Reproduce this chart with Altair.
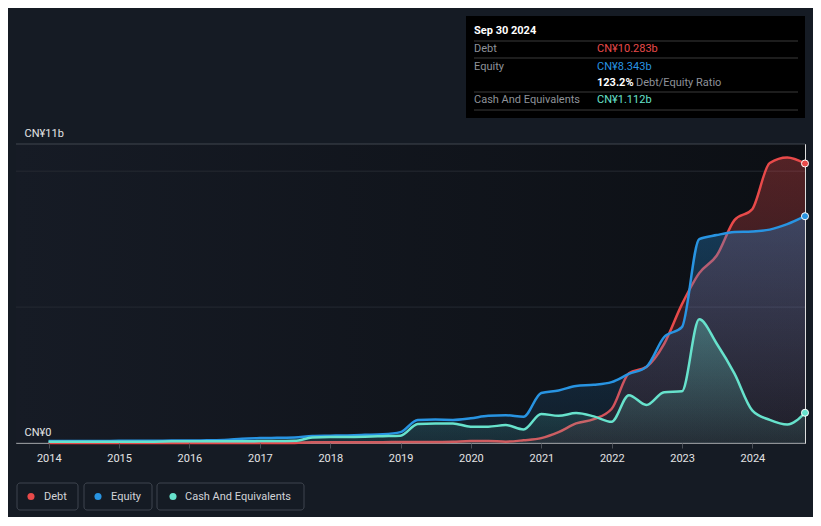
import math
import altair as alt
import pandas as pd

# ---------------- data (values in CN¥ billions, quarter ends) ----------------
dates = []
for yr in range(2013, 2025):
    for md in ("03-31", "06-30", "09-30", "12-31"):
        d = f"{yr}-{md}"
        if "2013-12-31" <= d <= "2024-09-30":
            dates.append(d)

debt = [0.0,
        0.0, 0.0, 0.0, 0.0,
        0.0, 0.0, 0.0, 0.0,
        0.0, 0.0, 0.0, 0.0,
        0.0, 0.0, 0.03, 0.03,
        0.03, 0.03, 0.03, 0.04,
        0.04, 0.04, 0.05, 0.07,
        0.07, 0.05, 0.10, 0.18,
        0.40, 0.72, 0.88, 1.25,
        2.57, 2.80, 3.65, 5.10,
        6.25, 6.90, 8.20, 8.60,
        10.30, 10.50, 10.283]

equity = [0.07,
          0.07, 0.07, 0.07, 0.08,
          0.08, 0.08, 0.09, 0.09,
          0.10, 0.11, 0.16, 0.18,
          0.19, 0.20, 0.26, 0.27,
          0.28, 0.30, 0.32, 0.40,
          0.85, 0.86, 0.85, 0.91,
          1.00, 1.02, 0.97, 1.84,
          1.93, 2.10, 2.14, 2.24,
          2.54, 2.80, 3.90, 4.26,
          7.50, 7.65, 7.76, 7.78,
          7.85, 8.05, 8.343]

cash = [0.05,
        0.05, 0.05, 0.05, 0.05,
        0.05, 0.05, 0.06, 0.06,
        0.06, 0.06, 0.06, 0.07,
        0.07, 0.08, 0.20, 0.22,
        0.22, 0.23, 0.25, 0.27,
        0.70, 0.72, 0.72, 0.60,
        0.60, 0.66, 0.50, 1.07,
        1.00, 1.10, 0.98, 0.78,
        1.76, 1.40, 1.87, 1.90,
        4.55, 3.65, 2.55, 1.20,
        0.85, 0.68, 1.112]

names = ["Debt", "Equity", "Cash And Equivalents"]
colors = ["#e84a4a", "#2894e2", "#67e2cc"]
series = [debt, equity, cash]
grid_values = [0, 5, 10, 11]
grid_colors = ["#41464e", "#252a32", "#252a32", "#41464e"]
year_ticks = list(range(2014, 2025))
as_of = "Sep 30 2024"

# ---------------- layout ----------------
W, H = 789, 299
YMAX = 11
BG = "#151b24"
FONT = "Roboto"


def rgba(hexc, a):
    h = hexc.lstrip("#")
    r, g, b = int(h[0:2], 16), int(h[2:4], 16), int(h[4:6], 16)
    return f"rgba({r},{g},{b},{a})"


xscale = alt.Scale(
    type="utc",
    domain=[alt.DateTime(year=2013, month=7, date=15, utc=True),
            alt.DateTime(year=2024, month=9, date=30, utc=True)],
)
yscale = alt.Scale(domain=[0, YMAX], nice=False, zero=True)

xaxis = alt.Axis(values=[alt.DateTime(year=y, month=1, date=1, utc=True) for y in year_ticks],
                 format="%Y", labelColor="#e4e4e4", labelFontSize=11, labelFont=FONT,
                 tickColor="#4a4f57", tickSize=5, domain=False, grid=False,
                 labelPadding=4, labelFlush=False, title=None, zindex=1)
yaxis = alt.Axis(values=[0, YMAX], labelAlign="left", labelBaseline="bottom",
                 labelPadding=-8, labelOffset=-6, ticks=False, domain=False, grid=False,
                 labelColor="#e4e4e4", labelFontSize=11, labelFont=FONT, title=None,
                 labelFlush=False, labelOverlap=False, zindex=1,
                 labelExpr="datum.value == 0 ? 'CN¥0' : 'CN¥' + datum.value + 'b'")


def X(field):
    return alt.X(field, scale=xscale, axis=xaxis, title=None)


def Y(field):
    return alt.Y(field, scale=yscale, axis=yaxis, title=None)


# background panel with gradient
bg_df = pd.DataFrame({"x0": ["2013-07-15"], "x1": ["2024-09-30"], "y0": [0], "y1": [YMAX]})
panel = alt.Chart(bg_df).mark_rect(
    color={"gradient": "linear", "x1": 0, "y1": 0, "x2": 1, "y2": 0,
           "stops": [{"offset": 0, "color": "#161b25"}, {"offset": 1, "color": "#0c0f14"}]}
).encode(x=X("x0:T"), x2="x1:T", y=Y("y0:Q"), y2="y1:Q")

grid_df = pd.DataFrame({"v": grid_values, "c": grid_colors})
grid = alt.Chart(grid_df).mark_rule(strokeWidth=1).encode(
    y=Y("v:Q"),
    color=alt.Color("c:N", scale=None),
)

layers = [panel, grid]

for name, col, vals in zip(names, colors, series):
    df = pd.DataFrame({"date": dates, "value": vals})
    grad = {"gradient": "linear", "x1": 0, "y1": 0, "x2": 0, "y2": 1,
            "stops": [{"offset": 0, "color": rgba(col, 0.32)},
                      {"offset": 1, "color": rgba(col, 0.08)}]}
    area = alt.Chart(df).mark_area(interpolate="monotone", color=grad).encode(
        x=X("date:T"), y=Y("value:Q"))
    line = alt.Chart(df).mark_line(interpolate="monotone", color=col, strokeWidth=2.5).encode(
        x=X("date:T"), y=Y("value:Q"))
    layers += [area, line]

for name, col, vals in zip(names, colors, series):
    df = pd.DataFrame({"date": [dates[-1]], "value": [vals[-1]]})
    end = alt.Chart(df).mark_circle(size=50, color=col, opacity=1, stroke="white", strokeWidth=1).encode(
        x=X("date:T"), y=Y("value:Q"))
    layers.append(end)

# ---------------- tooltip box ----------------
one = pd.DataFrame({"a": [0]})


def text(t, x, y, color, size=11, weight="normal"):
    return alt.Chart(one).mark_text(text=t, align="left", baseline="middle", font=FONT,
                                    fontSize=size, fontWeight=weight, color=color).encode(
        x=alt.value(x), y=alt.value(y))


def hrule(x0, x1, y, color):
    return alt.Chart(one).mark_rule(color=color, strokeWidth=1).encode(
        x=alt.value(x0), x2=alt.value(x1), y=alt.value(y))


box = alt.Chart(one).mark_rect(color="#000000").encode(
    x=alt.value(450), x2=alt.value(789), y=alt.value(-128), y2=alt.value(-26))
layers.append(box)
for yy in (-103, -86, -52, -34):
    layers.append(hrule(458, 782, yy, "#3a3a3a"))
ratio = math.floor(debt[-1] / equity[-1] * 1000) / 10
layers += [
    text(as_of, 458, -113, "#ffffff", 11, "bold"),
    text("Debt", 458, -95, "#8e9299"),
    text(f"CN¥{debt[-1]:.3f}b", 581, -95, colors[0]),
    text("Equity", 458, -77, "#8e9299"),
    text(f"CN¥{equity[-1]:.3f}b", 581, -77, colors[1]),
    text(f"{ratio:.1f}%", 581, -61, "#ffffff", 11, "bold"),
    text("Debt/Equity Ratio", 620, -61, "#8e9299"),
    text("Cash And Equivalents", 458, -44, "#8e9299"),
    text(f"CN¥{cash[-1]:.3f}b", 581, -44, colors[2]),
]

# ---------------- legend ----------------
leg_box_x = [(1, 62), (68, 136), (141, 288)]
leg_dot_x = [15, 82, 157]
leg_txt_x = [28, 95, 169]
for (bx0, bx1), dx, tx, name, col in zip(leg_box_x, leg_dot_x, leg_txt_x, names, colors):
    layers.append(alt.Chart(one).mark_rect(fill=BG, stroke="#3e444e", strokeWidth=1, cornerRadius=3).encode(
        x=alt.value(bx0), x2=alt.value(bx1), y=alt.value(339), y2=alt.value(366)))
    layers.append(alt.Chart(one).mark_circle(size=50, color=col, opacity=1).encode(
        x=alt.value(dx), y=alt.value(352.5)))
    layers.append(text(name, tx, 352.5, "#d2d4d8", 11))

chart = alt.layer(*layers).properties(
    width=W, height=H,
    autosize=alt.AutoSizeParams(type="none"),
    padding={"left": 8, "top": 136, "right": 8, "bottom": 74},
).configure_view(stroke=None).configure(background=BG, font=FONT)

chart.save("out.html", embed_options={"renderer": "svg", "actions": False})
